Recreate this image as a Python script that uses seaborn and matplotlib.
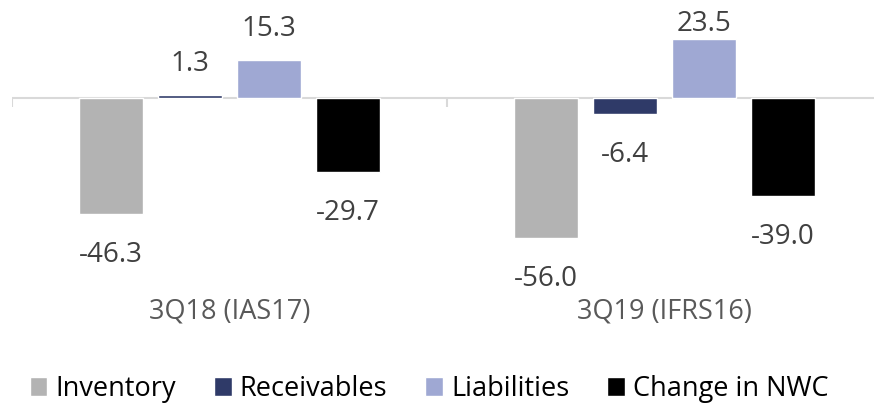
import numpy as np
import pandas as pd
import matplotlib
matplotlib.use("Agg")
import matplotlib.pyplot as plt
from matplotlib.patches import Patch
import seaborn as sns

sns.set_theme(style="white")
plt.rcParams['font.family'] = ['Open Sans', 'DejaVu Sans']

periods = ["3Q18 (IAS17)", "3Q19 (IFRS16)"]
components = ["Inventory", "Receivables", "Liabilities", "Change in NWC"]
inventory = [-46.3, -56.0]
receivables = [1.3, -6.4]
liabilities = [15.3, 23.5]
change_nwc = [-29.7, -39.0]

colors = ["#b3b3b3", "#2f3a68", "#9fa8d3", "#000000"]

df = pd.DataFrame({
    "period": periods * 4,
    "component": [c for c in components for _ in periods],
    "value": inventory + receivables + liabilities + change_nwc,
})

fig = plt.figure(figsize=(8.74, 4.03), dpi=100)
ax = fig.add_axes([12 / 874, 1 - 285 / 403, 870 / 874, 285 / 403])

sns.barplot(data=df, x="period", y="value", hue="component",
            hue_order=components, order=periods, palette=colors,
            width=0.726, gap=0.2, ax=ax, legend=False, errorbar=None,
            saturation=1)

ymin, ymax = -74.8, 39.2
ax.set_xlim(-0.5, 1.5)
ax.set_ylim(ymin, ymax)

# value labels (labels that would not fit above the bar are kept inside the plot area)
for container in ax.containers:
    for bar in container:
        v = bar.get_height()
        x = bar.get_x() + bar.get_width() / 2
        if v >= 0 and v + 17 > ymax:
            ax.annotate(f"{v:.1f}", (x, ymax), xytext=(0, -7), textcoords="offset points",
                        ha="center", va="top", fontsize=20, color="#404040")
        elif v >= 0:
            ax.annotate(f"{v:.1f}", (x, v), xytext=(0, 12), textcoords="offset points",
                        ha="center", va="bottom", fontsize=20, color="#404040")
        else:
            ax.annotate(f"{v:.1f}", (x, v), xytext=(0, -19.5), textcoords="offset points",
                        ha="center", va="top", fontsize=20, color="#404040")

# zero axis line with category separators
ax.axhline(0, color="#d9d9d9", lw=1.5, zorder=0.5)
ax.vlines(np.arange(len(periods) + 1) - 0.5, -3.4, 0, color="#d9d9d9", lw=1.5, zorder=0.5)

for s in ax.spines.values():
    s.set_visible(False)
ax.set_yticks([])
ax.set_xlabel("")
ax.set_ylabel("")
ax.tick_params(axis="x", length=0, labelsize=19.5, labelcolor="#595959", pad=9)

handles = [Patch(facecolor=c, label=l) for c, l in zip(colors, components)]
fig.legend(handles=handles, loc="center", bbox_to_anchor=(429 / 874, 1 - 389 / 403), ncol=4,
           frameon=False, fontsize=19.5, handlelength=0.65, handleheight=0.65,
           handletextpad=0.3, columnspacing=1.4, labelcolor="#000000",
           borderpad=0, borderaxespad=0)

fig.savefig("out.png", dpi=100)
